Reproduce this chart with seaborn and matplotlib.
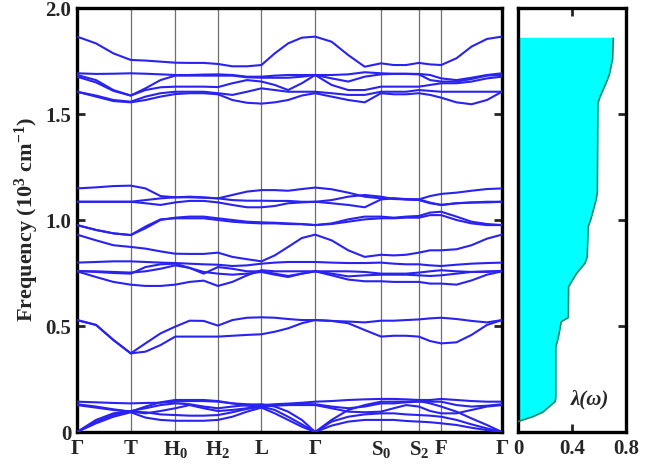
import numpy as np
import pandas as pd
import matplotlib
matplotlib.use("Agg")
import matplotlib.pyplot as plt
import seaborn as sns

# ---------------- data ----------------
# path coordinate of the sample points (arbitrary units along the k-path)
k_path = [0, 19, 36.3, 53.6, 68.3, 83.3, 98, 112.3, 126.3, 140.6, 155, 169.6, 184,
          197.3, 210.6, 224.3, 237.6, 254, 270.6, 287, 303.3, 316, 328.3, 341,
          352.3, 363.3, 378.6, 393.6, 409, 424]
sym_pos = [0, 53.6, 98, 140.6, 184, 237.6, 303.3, 341, 363.3, 424]
sym_labels = ["Γ", "T", r"H$_{\mathbf{0}}$", r"H$_{\mathbf{2}}$", "L", "Γ",
              r"S$_{\mathbf{0}}$", r"S$_{\mathbf{2}}$", "F", "Γ"]

# phonon branches (10^3 cm^-1)
band_01 = [1.865,1.833,1.786,1.755,1.752,1.747,1.742,1.741,1.741,1.736,1.725,1.725,1.731,1.786,1.833,1.860,1.865,1.841,1.778,1.723,1.739,1.731,1.731,1.741,1.734,1.731,1.763,1.818,1.854,1.865]
band_02 = [1.692,1.689,1.690,1.692,1.690,1.687,1.684,1.684,1.686,1.687,1.684,1.676,1.676,1.681,1.684,1.684,1.684,1.684,1.687,1.697,1.692,1.690,1.690,1.689,1.684,1.668,1.660,1.671,1.684,1.692]
band_03 = [1.684,1.660,1.613,1.587,1.621,1.660,1.681,1.681,1.681,1.681,1.681,1.673,1.671,1.671,1.671,1.676,1.684,1.668,1.653,1.676,1.687,1.689,1.689,1.687,1.660,1.653,1.653,1.665,1.681,1.684]
band_04 = [1.676,1.649,1.609,1.587,1.613,1.626,1.629,1.629,1.629,1.627,1.645,1.660,1.653,1.637,1.613,1.645,1.684,1.637,1.613,1.613,1.629,1.629,1.629,1.629,1.637,1.645,1.645,1.653,1.668,1.676]
band_05 = [1.605,1.587,1.566,1.558,1.582,1.598,1.605,1.605,1.605,1.598,1.590,1.605,1.621,1.613,1.605,1.605,1.605,1.598,1.590,1.590,1.605,1.605,1.605,1.613,1.609,1.605,1.605,1.605,1.605,1.605]
band_06 = [1.605,1.582,1.561,1.555,1.566,1.582,1.594,1.598,1.598,1.593,1.566,1.553,1.549,1.555,1.566,1.587,1.598,1.582,1.566,1.555,1.598,1.593,1.593,1.598,1.590,1.577,1.555,1.546,1.566,1.605]
band_07 = [1.149,1.154,1.160,1.162,1.149,1.113,1.107,1.107,1.105,1.102,1.118,1.134,1.141,1.141,1.138,1.146,1.153,1.145,1.129,1.110,1.102,1.102,1.099,1.097,1.113,1.123,1.129,1.138,1.146,1.149]
band_08 = [1.086,1.086,1.086,1.086,1.094,1.102,1.107,1.110,1.107,1.102,1.094,1.091,1.091,1.090,1.090,1.086,1.086,1.094,1.110,1.118,1.110,1.099,1.097,1.097,1.082,1.071,1.079,1.083,1.086,1.086]
band_09 = [1.086,1.086,1.086,1.086,1.079,1.071,1.083,1.090,1.090,1.083,1.071,1.060,1.060,1.066,1.079,1.083,1.086,1.079,1.071,1.060,1.097,1.102,1.097,1.094,1.079,1.071,1.079,1.082,1.083,1.086]
band_10 = [0.976,0.953,0.937,0.929,0.961,1.000,1.011,1.016,1.016,1.008,1.000,0.992,0.989,0.987,0.984,0.981,0.976,0.984,1.003,1.016,1.016,1.011,1.016,1.019,1.035,1.039,1.016,0.992,0.981,0.976]
band_11 = [0.976,0.953,0.937,0.929,0.969,1.003,1.008,1.008,1.008,1.000,0.992,0.987,0.984,0.984,0.981,0.980,0.976,0.981,0.992,1.003,1.008,1.008,1.011,1.011,1.023,1.023,1.000,0.984,0.976,0.976]
band_12 = [0.931,0.904,0.881,0.873,0.865,0.852,0.841,0.840,0.840,0.846,0.826,0.815,0.805,0.833,0.873,0.915,0.931,0.904,0.857,0.826,0.836,0.833,0.836,0.846,0.857,0.857,0.862,0.881,0.912,0.931]
band_13 = [0.799,0.802,0.805,0.805,0.802,0.799,0.797,0.794,0.791,0.789,0.783,0.786,0.794,0.799,0.802,0.802,0.802,0.799,0.797,0.797,0.799,0.794,0.791,0.791,0.786,0.783,0.789,0.794,0.797,0.799]
band_14 = [0.760,0.755,0.750,0.747,0.778,0.791,0.794,0.774,0.747,0.778,0.770,0.758,0.758,0.747,0.736,0.747,0.758,0.758,0.758,0.755,0.747,0.747,0.747,0.752,0.758,0.763,0.758,0.755,0.755,0.760]
band_15 = [0.758,0.758,0.755,0.752,0.758,0.770,0.786,0.774,0.755,0.747,0.742,0.747,0.755,0.742,0.731,0.747,0.758,0.747,0.734,0.739,0.742,0.742,0.742,0.739,0.736,0.739,0.747,0.755,0.758,0.758]
band_16 = [0.758,0.731,0.708,0.695,0.689,0.689,0.695,0.708,0.714,0.689,0.708,0.739,0.763,0.758,0.758,0.758,0.758,0.739,0.719,0.711,0.711,0.708,0.708,0.708,0.700,0.700,0.695,0.715,0.742,0.758]
band_17 = [0.528,0.505,0.434,0.371,0.418,0.465,0.497,0.525,0.524,0.502,0.528,0.539,0.541,0.539,0.533,0.528,0.528,0.524,0.521,0.517,0.525,0.525,0.528,0.531,0.536,0.539,0.533,0.524,0.517,0.528]
band_18 = [0.528,0.505,0.434,0.371,0.379,0.410,0.450,0.450,0.450,0.450,0.454,0.458,0.461,0.473,0.489,0.513,0.528,0.524,0.513,0.481,0.450,0.454,0.454,0.450,0.429,0.418,0.423,0.458,0.505,0.528]
band_19 = [0.0,0.041,0.072,0.093,0.068,0.057,0.053,0.053,0.053,0.057,0.072,0.096,0.115,0.088,0.057,0.025,0.0,0.030,0.049,0.057,0.057,0.057,0.052,0.049,0.046,0.041,0.033,0.020,0.009,0.0]
band_20 = [0.0,0.049,0.080,0.096,0.093,0.083,0.080,0.077,0.077,0.080,0.093,0.109,0.120,0.104,0.072,0.036,0.0,0.049,0.072,0.083,0.088,0.088,0.083,0.080,0.077,0.072,0.057,0.036,0.017,0.0]
band_21 = [0.0,0.057,0.088,0.099,0.112,0.127,0.135,0.131,0.120,0.112,0.120,0.127,0.131,0.120,0.096,0.057,0.0,0.057,0.104,0.127,0.143,0.143,0.143,0.146,0.135,0.120,0.096,0.064,0.033,0.0]
band_22 = [0.143,0.140,0.137,0.135,0.137,0.138,0.143,0.146,0.146,0.143,0.135,0.131,0.127,0.131,0.134,0.138,0.143,0.146,0.151,0.154,0.156,0.156,0.154,0.151,0.151,0.156,0.151,0.146,0.143,0.143]
band_23 = [0.131,0.120,0.107,0.096,0.120,0.140,0.151,0.151,0.151,0.146,0.135,0.124,0.120,0.127,0.131,0.132,0.131,0.120,0.112,0.120,0.135,0.135,0.140,0.143,0.143,0.143,0.127,0.120,0.124,0.131]
band_24 = [0.127,0.115,0.104,0.096,0.088,0.099,0.112,0.127,0.112,0.099,0.104,0.112,0.120,0.124,0.127,0.127,0.127,0.112,0.096,0.093,0.096,0.112,0.127,0.120,0.099,0.088,0.088,0.104,0.120,0.127]

bands = [band_01, band_02, band_03, band_04, band_05, band_06, band_07, band_08,
         band_09, band_10, band_11, band_12, band_13, band_14, band_15, band_16,
         band_17, band_18, band_19, band_20, band_21, band_22, band_23, band_24]

# cumulative electron-phonon coupling lambda(omega)
lam_freq = [0.049, 0.06, 0.072, 0.094, 0.143, 0.16, 0.40, 0.45, 0.52, 0.54, 0.685, 0.709,
            0.748, 0.796, 0.826, 0.968, 1.0, 1.094, 1.13, 1.55, 1.58, 1.645, 1.684, 1.76,
            1.857, 1.862]
lam_vals = [0.0, 0.05, 0.11, 0.185, 0.274, 0.28, 0.28, 0.30, 0.32, 0.373, 0.375, 0.397,
            0.434, 0.496, 0.513, 0.52, 0.538, 0.578, 0.588, 0.592, 0.607, 0.652, 0.676, 0.701,
            0.706, 0.706]

# ---------------- style ----------------
sns.set_theme(style="ticks")
plt.rcParams["font.family"] = ["Liberation Serif", "DejaVu Serif"]
plt.rcParams["font.weight"] = "bold"
plt.rcParams["mathtext.fontset"] = "custom"
plt.rcParams["mathtext.rm"] = "Liberation Serif:bold"
plt.rcParams["mathtext.bf"] = "Liberation Serif:bold"
plt.rcParams["mathtext.it"] = "Liberation Serif:bold:italic"

df = pd.DataFrame({
    "k": np.tile(k_path, len(bands)),
    "freq": np.concatenate([np.asarray(b, float) for b in bands]),
    "band": np.repeat(np.arange(len(bands)), len(k_path)),
})

fig = plt.figure(figsize=(6.54, 4.65), dpi=100)
ax1 = fig.add_axes([77 / 654, 1 - 432 / 465, 425 / 654, 424 / 465])
ax2 = fig.add_axes([518 / 654, 1 - 432 / 465, 108 / 654, 424 / 465])

BLUE = "#2a22f0"
FS = 15

# vertical lines at high-symmetry points
for p in sym_pos[1:-1]:
    ax1.axvline(p, color="#6e6e6e", lw=0.9, zorder=1)

sns.lineplot(data=df, x="k", y="freq", units="band", estimator=None, sort=False,
             color=BLUE, lw=1.5, ax=ax1, legend=False, zorder=3)

ax1.set_xlim(sym_pos[0], sym_pos[-1])
ax1.set_ylim(0, 2.0)
ax1.set_xticks(sym_pos)
ax1.set_xticklabels(sym_labels, fontsize=FS, fontweight="bold")
ax1.set_yticks([0, 0.5, 1.0, 1.5, 2.0])
ax1.set_yticklabels(["0", "0.5", "1.0", "1.5", "2.0"], fontsize=FS, fontweight="bold")
ax1.tick_params(axis="x", length=0, pad=5)
ax1.tick_params(axis="y", direction="in", length=6, width=2, left=True, right=True, pad=4)
ax1.set_xlabel("")
ax1.set_ylabel(r"Frequency (10$^{\mathbf{3}}$ cm$^{\mathbf{-1}}$)", fontsize=FS + 1,
               fontweight="bold", labelpad=3)

# lambda panel
ax2.fill_betweenx(lam_freq, 0, lam_vals, color="#00ffff", lw=0, zorder=2)
lam_df = pd.DataFrame({"lam": lam_vals[:-1], "freq": lam_freq[:-1]})
sns.lineplot(data=lam_df, x="lam", y="freq", sort=False, orient="y", color="#1f8a60",
             lw=1.2, ax=ax2, legend=False, zorder=3)
ax2.set_xlim(0, 0.8)
ax2.set_ylim(0, 2.0)
ax2.set_xticks([0, 0.4, 0.8])
ax2.set_xticklabels(["0", "0.4", "0.8"], fontsize=FS, fontweight="bold")
ax2.set_yticks([0, 0.5, 1.0, 1.5, 2.0])
ax2.set_yticklabels([])
ax2.tick_params(axis="x", direction="in", length=6, width=2, top=True, bottom=True, pad=5)
ax2.tick_params(axis="y", direction="in", length=6, width=2, left=False, right=True)
ax2.set_xlabel("")
ax2.set_ylabel("")
ax2.text(0.53, 0.155, "λ(ω)", fontsize=FS, fontweight="bold", fontstyle="italic",
         ha="center", va="center")

for ax in (ax1, ax2):
    for s in ax.spines.values():
        s.set_visible(True)
        s.set_linewidth(2.4)
        s.set_color("black")

fig.savefig("out.png", dpi=100)
